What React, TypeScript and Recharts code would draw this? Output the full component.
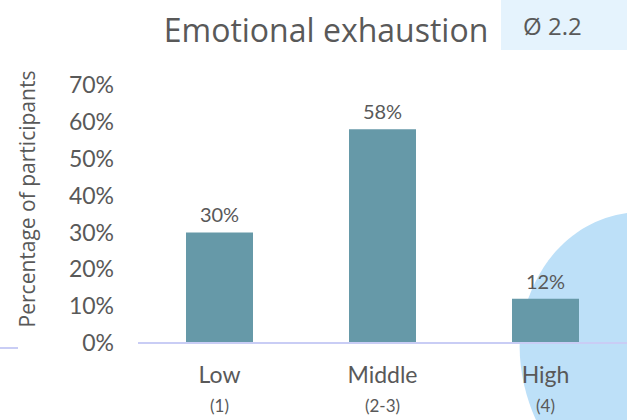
import { BarChart, Bar, XAxis, YAxis, LabelList } from 'recharts';

const categories = ['Low', 'Middle', 'High'];
const subLabels = ['(1)', '(2-3)', '(4)'];
const shares = [0.3, 0.58, 0.12];
const yTicks = [0, 0.1, 0.2, 0.3, 0.4, 0.5, 0.6, 0.7];
const title = 'Emotional exhaustion';
const average = 'Ø 2.2';
const yTitle = 'Percentage of participants';

const data = categories.map((name, i) => ({ name, sub: subLabels[i], value: shares[i] }));

const pct = (v: number) => `${Math.round(v * 100)}%`;

const CategoryTick = (props: any) => {
  const { x, y, payload, index } = props;
  return (
    <g>
      <text x={x} y={y + 32} textAnchor="middle" fill="#595959" fontSize={23} fontFamily="Lato">
        {payload.value}
      </text>
      <text x={x} y={y + 61} textAnchor="middle" fill="#595959" fontSize={17} fontFamily="Lato">
        {subLabels[index]}
      </text>
    </g>
  );
};

export default function App() {
  return (
    <div style={{ position: 'absolute', left: 0, top: 0, width: 627, height: 420, background: '#fff', overflow: 'hidden' }}>
      {/* background decorations */}
      <svg width={627} height={420} style={{ position: 'absolute', left: 0, top: 0 }}>
        <path d="M627,213 C578,220 538,256 523,316 C515,350 522,390 536,420 L627,420 Z" fill="#BDE0F8" />
        <rect x={501} y={0} width={126} height={50} fill="#E5F3FD" />
        <text x={523} y={35} fill="#595959" fontSize={24} fontFamily="Open Sans">
          {average}
        </text>
        <text x={326} y={42} textAnchor="middle" fill="#595959" fontSize={32} fontFamily="Open Sans">
          {title}
        </text>
        <text transform="translate(35,199) rotate(-90)" textAnchor="middle" fill="#595959" fontSize={21} fontFamily="Open Sans">
          {yTitle}
        </text>
        <line x1={0} y1={348} x2={18} y2={348} stroke="#C9CDF5" strokeWidth={2} />
      </svg>
      <div style={{ position: 'absolute', left: 0, top: 0 }}>
        <BarChart width={627} height={420} data={data} margin={{ top: 85, right: 0, left: 0, bottom: 47 }} barCategoryGap={48}>
          <YAxis
            width={138}
            domain={[0, 0.7]}
            ticks={yTicks}
            tickFormatter={pct}
            axisLine={false}
            tickLine={false}
            tickMargin={18}
            tick={{ fill: '#595959', fontSize: 23, fontFamily: 'Lato' }}
          />
          <XAxis
            dataKey="name"
            axisLine={{ stroke: '#C9CDF5', strokeWidth: 2 }}
            tickLine={false}
            tick={<CategoryTick />}
            interval={0}
          />
          <Bar dataKey="value" fill="#6699A8" isAnimationActive={false}>
            <LabelList dataKey="value" position="top" offset={10} formatter={(v: any) => pct(Number(v))} fill="#595959" fontSize={20} fontFamily="Lato" />
          </Bar>
        </BarChart>
      </div>
    </div>
  );
}
